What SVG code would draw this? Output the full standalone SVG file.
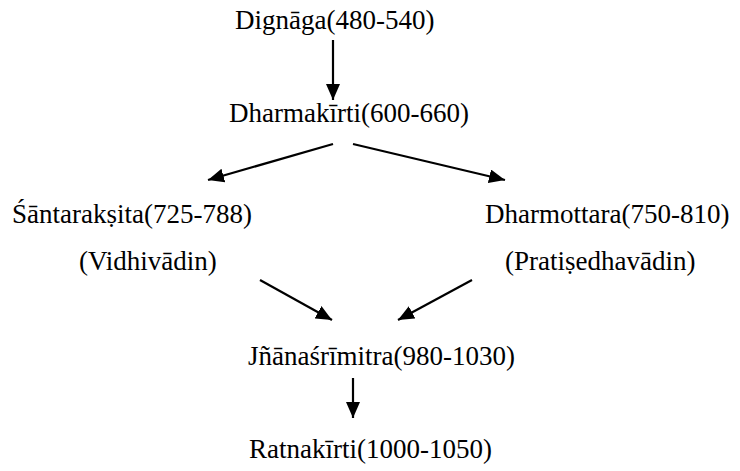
<svg xmlns="http://www.w3.org/2000/svg" width="740" height="471" viewBox="0 0 740 471">
<style>
.c line{stroke:#000;stroke-width:2.2;fill:none}
</style>
<defs>
<marker id="ah" markerUnits="userSpaceOnUse" markerWidth="17" markerHeight="15" refX="16" refY="7" orient="auto" viewBox="0 0 17 15">
<path d="M0,0 L16,7 L0,14 z" fill="#000"/>
</marker>
</defs>
<rect width="740" height="471" fill="#fff"/>
<g font-family="'Liberation Serif', 'Times New Roman', Tinos, 'DejaVu Serif', serif" font-size="27" fill="#000">
<g id="dignaga"><text x="235" y="29">Dignāga(480-540)</text></g>
<g id="dharmakirti"><text x="229" y="122">Dharmakīrti(600-660)</text></g>
<g id="santaraksita"><text x="12" y="223">Śāntarakṣita(725-788)</text><text x="79" y="270">(Vidhivādin)</text></g>
<g id="dharmottara"><text x="485" y="223">Dharmottara(750-810)</text><text x="505" y="270">(Pratiṣedhavādin)</text></g>
<g id="jnanasrimitra"><text x="248" y="365">Jñānaśrīmitra(980-1030)</text></g>
<g id="ratnakirti"><text x="249" y="458">Ratnakīrti(1000-1050)</text></g>
</g>
<g class="c" id="connectors">
<line x1="333" y1="40" x2="333" y2="100" marker-end="url(#ah)"/>
<line x1="333" y1="144" x2="208" y2="180" marker-end="url(#ah)"/>
<line x1="353" y1="144" x2="505" y2="180" marker-end="url(#ah)"/>
<line x1="260" y1="280" x2="332" y2="320" marker-end="url(#ah)"/>
<line x1="472" y1="280" x2="398" y2="320" marker-end="url(#ah)"/>
<line x1="353" y1="378" x2="353" y2="418" marker-end="url(#ah)"/>
</g>
</svg>
